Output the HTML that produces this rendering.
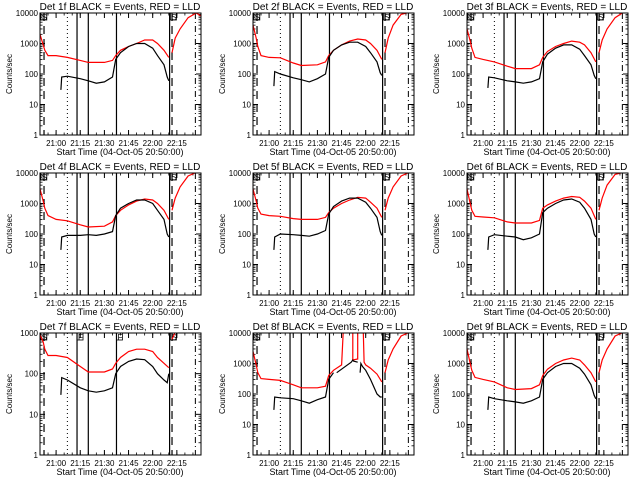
<!DOCTYPE html>
<html><head><meta charset="utf-8"><style>
html,body{margin:0;padding:0;background:#fff;}
svg{display:block;font-family:"Liberation Sans",sans-serif;}
</style></head><body>
<svg id="chart" width="640" height="480" viewBox="0 0 640 480"></svg>
<script>
// minutes after 20:50:00; null = data gap
const redTimes = [0,2,3,5,10,17,25,30,40,45,47,50,55,60,65,70,73,77,80];
const redTimes8 = [0,2,3,5,10,17,25,30,40,45,47,50,55,56,56.5,57,58,62,62,65,65,67,68,68.5,69,70,73,77,80];
const redLateTimes = [82,84,87,92,97,100];
const blackTimes = [13,13.5,17,25,30,35,40,45,47,50,55,60,65,70,73,77,79,80];
const blackTimes8 = [13,13.5,17,25,30,35,40,45,47,50,51,52,61,62,62.5,65,66,66.5,67,68,70,73,77,79,80];
const detNames = ["1f","2f","3f","4f","5f","6f","7f","8f","9f"];
const yTopDecade = [4,4,4,4,4,4,3,4,4];
const red1 = [2000,900,600,400,400,350,280,240,240,280,400,600,800,1000,1300,1300,1000,600,350];
const red2 = [4000,1500,800,400,350,340,230,190,200,250,400,600,900,1200,1400,1300,1000,600,300];
const red3 = [3000,1200,700,350,300,250,180,150,150,200,350,550,800,1000,1200,1100,900,500,250];
const red4 = [3000,1200,700,400,300,270,200,170,180,250,400,600,900,1200,1400,1300,1000,600,300];
const red5 = [3000,1200,700,450,400,380,320,300,300,350,500,700,1000,1300,1600,1500,1100,700,350];
const red6 = [3000,1000,600,380,360,340,250,230,230,280,700,900,1200,1500,1700,1600,1200,700,300];
const red7 = [900,600,400,280,280,250,150,110,110,130,180,250,350,400,400,350,250,180,140];
const red8 = [2500,900,500,320,300,280,200,160,160,180,400,600,900,20000,20000,20000,20000,20000,1300,1400,20000,20000,20000,20000,1100,900,700,450,250];
const red9 = [3000,1000,600,350,300,250,160,140,150,200,400,650,1000,1300,1500,1300,900,500,250];
const redLate1 = [500,1500,3000,7000,10000,8000];
const redLate2 = [500,1500,4000,9000,12000,12000];
const redLate3 = [500,1300,3000,7000,12000,12000];
const redLate4 = [600,1500,3500,8000,12000,12000];
const redLate5 = [600,1500,3500,8000,12000,12000];
const redLate6 = [600,1500,4000,9000,12000,12000];
const redLate7 = [700,2000,5000,9000,12000,12000];
const redLate8 = [500,1300,3000,8000,12000,12000];
const redLate9 = [500,1300,3000,8000,12000,12000];
const black1 = [30,80,85,70,60,50,55,80,300,500,800,1000,1000,700,400,200,80,60];
const black2 = [40,120,100,75,65,55,70,100,350,600,900,1100,1100,800,500,250,110,90];
const black3 = [35,80,75,60,55,50,55,70,250,450,700,900,900,650,400,200,90,70];
const black4 = [30,80,90,90,95,90,100,120,400,700,1000,1300,1300,1000,600,300,100,80];
const black5 = [30,80,100,95,90,85,100,130,450,800,1200,1500,1500,1100,700,350,120,90];
const black6 = [30,80,95,85,80,65,75,100,500,700,1000,1300,1400,1100,700,300,100,80];
const black7 = [30,80,70,45,38,35,38,45,100,150,200,230,220,150,100,70,60,100];
const black8 = [30,80,75,70,60,50,65,80,300,500,null,500,1100,1300,1200,1100,null,500,1000,800,600,300,100,80,80];
const black9 = [30,80,70,60,55,50,60,80,300,500,800,1000,1000,700,450,200,90,70];
const redTimeSets = [redTimes,redTimes,redTimes,redTimes,redTimes,redTimes,redTimes,redTimes8,redTimes];
const blackTimeSets = [blackTimes,blackTimes,blackTimes,blackTimes,blackTimes,blackTimes,blackTimes,blackTimes8,blackTimes];
const redSeries = [red1,red2,red3,red4,red5,red6,red7,red8,red9];
const redLateSeries = [redLate1,redLate2,redLate3,redLate4,redLate5,redLate6,redLate7,redLate8,redLate9];
const blackSeries = [black1,black2,black3,black4,black5,black6,black7,black8,black9];
const xTickTimes = [10,25,40,55,70,85];
const xTickLabels = ["21:00","21:15","21:30","21:45","22:00","22:15"];
const svg = document.getElementById('chart');
const NS = 'http://www.w3.org/2000/svg';
function mk(tag, attrs, parent){const e=document.createElementNS(NS,tag);for(const k in attrs)e.setAttribute(k,attrs[k]);parent.appendChild(e);return e;}
const BX0=40,BX1=201,BY0=13,BY1=135;
for(let p=0;p<9;p++){
  const ox=[0,213,427][p%3], oy=[0,160,320][Math.floor(p/3)];
  const g=mk('g',{transform:`translate(${ox},${oy})`},svg);
  
  
  const top=yTopDecade[p];
  const xs=t=>BX0+(t/100)*(BX1-BX0);
  const ys=v=>{let l=Math.log10(Math.max(v,0.5));l=Math.min(l,top+0.02);return BY1-(l/top)*(BY1-BY0);};
  const clip='clip'+p;
  const cp=mk('clipPath',{id:clip},g);mk('rect',{x:BX0,y:BY0,width:BX1-BX0,height:BY1-BY0},cp);
  const tt=mk('text',{x:120,y:10,'font-size':10,'text-anchor':'middle'},g);
  tt.textContent='Det '+detNames[p]+' BLACK = Events, RED = LLD';
  
  
  const yl=mk('text',{x:0,y:0,'font-size':8,'text-anchor':'middle',transform:`translate(12,${(BY0+BY1)/2}) rotate(-90)`},g);
  yl.textContent='Counts/sec';
  
  
  const xl=mk('text',{x:120,y:155,'font-size':9,'text-anchor':'middle'},g);
  xl.textContent='Start Time (04-Oct-05 20:50:00)';
  
  
  for(let d=0;d<=top;d++){
    const y=ys(Math.pow(10,d));
    mk('line',{x1:BX0,x2:BX0+5,y1:y,y2:y,stroke:'#000'},g);
    mk('line',{x1:BX1-5,x2:BX1,y1:y,y2:y,stroke:'#000'},g);
    const lb=mk('text',{x:BX0-2,y:y+3,'font-size':8,'text-anchor':'end'},g);
    lb.textContent=String(Math.pow(10,d));
    
    
    if(d<top)for(let m=2;m<10;m++){const ym=ys(m*Math.pow(10,d));
      mk('line',{x1:BX0,x2:BX0+2.5,y1:ym,y2:ym,stroke:'#000','stroke-width':0.8},g);
      mk('line',{x1:BX1-2.5,x2:BX1,y1:ym,y2:ym,stroke:'#000','stroke-width':0.8},g);}
  }
  xTickTimes.forEach((t,i)=>{const x=xs(t);
    mk('line',{x1:x,x2:x,y1:BY1,y2:BY1-5,stroke:'#000'},g);
    mk('line',{x1:x,x2:x,y1:BY0,y2:BY0+5,stroke:'#000'},g);
    const lb=mk('text',{x:x,y:146,'font-size':8,'text-anchor':'middle'},g);
    lb.textContent=xTickLabels[i];
    
    });
  for(let t=0;t<=100;t+=5){const x=xs(t);mk('line',{x1:x,x2:x,y1:BY1,y2:BY1-2.5,stroke:'#000','stroke-width':0.8},g);mk('line',{x1:x,x2:x,y1:BY0,y2:BY0+2.5,stroke:'#000','stroke-width':0.8},g);}
  mk('line',{x1:xs(2.5),x2:xs(2.5),y1:BY0,y2:BY1,stroke:'#000','stroke-dasharray':'8,5','stroke-width':1.2},g);
  mk('line',{x1:xs(17),x2:xs(17),y1:BY0,y2:BY1,stroke:'#000','stroke-dasharray':'1,3'},g);
  [23,30,47.5,80.5].forEach(t=>mk('line',{x1:xs(t),x2:xs(t),y1:BY0,y2:BY1,stroke:'#000','stroke-width':1.2},g));
  mk('line',{x1:xs(82),x2:xs(82),y1:BY0,y2:BY1,stroke:'#000','stroke-dasharray':'8,5','stroke-width':1.2},g);
  mk('line',{x1:xs(96.5),x2:xs(96.5),y1:BY0,y2:BY1,stroke:'#000','stroke-dasharray':'6,3,1,3'},g);
  const marks=[[0.5,'S'],[81,'S']];
  if(p===6){marks.push([23,'F'],[47.5,'F']);}
  marks.forEach(([t,s])=>{const x=xs(t);
    mk('rect',{x:x,y:BY0,width:6,height:7,fill:'none',stroke:'#000','stroke-width':0.8},g);
    const m=mk('text',{x:x+1,y:BY0+7,'font-size':8},g);m.textContent=s;
    
    });
  const path=(ts,vs)=>{let d='',pen=false;ts.forEach((t,i)=>{const v=vs[i];if(v===null){pen=false;return;}d+=(pen?'L':'M')+xs(t).toFixed(1)+','+ys(v).toFixed(1)+' ';pen=true;});return d;};
  const r=mk('path',{d:path(redTimeSets[p],redSeries[p]),fill:'none',stroke:'#f00','stroke-width':1.2,'clip-path':`url(#${clip})`},g);
  
  
  const r2=mk('path',{d:path(redLateTimes,redLateSeries[p]),fill:'none',stroke:'#f00','stroke-width':1.2,'clip-path':`url(#${clip})`},g);
  
  
  const b=mk('path',{d:path(blackTimeSets[p],blackSeries[p]),fill:'none',stroke:'#000','stroke-width':1.2,'clip-path':`url(#${clip})`},g);
  
  
  const box=mk('rect',{x:BX0,y:BY0,width:BX1-BX0,height:BY1-BY0,fill:'none',stroke:'#000','stroke-width':1},g);
  
  
}
</script>
</body></html>
